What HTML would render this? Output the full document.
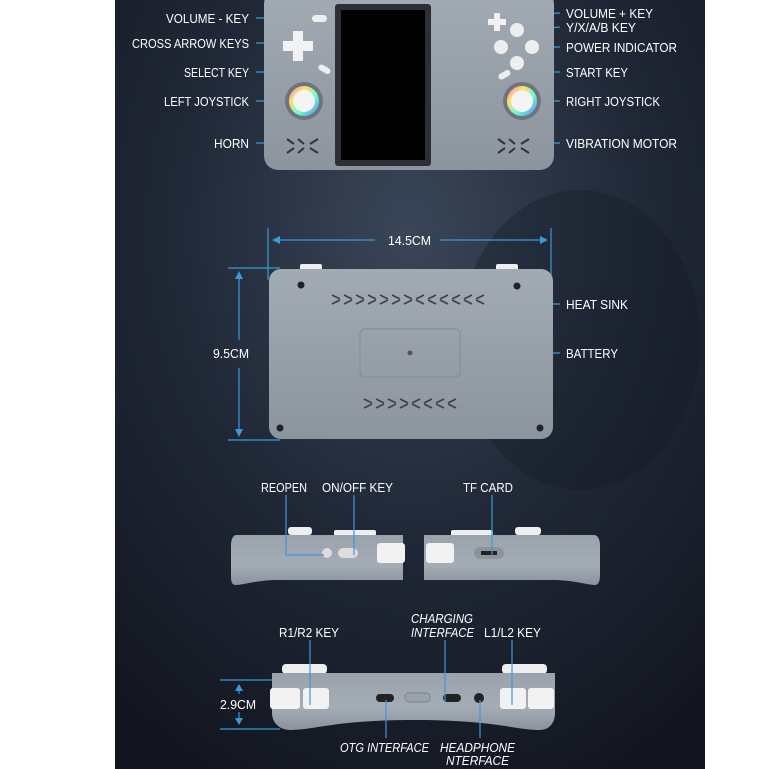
<!DOCTYPE html>
<html><head><meta charset="utf-8"><style>
html,body{margin:0;padding:0;background:#fff;width:769px;height:769px;overflow:hidden}
svg{display:block}
text{font-family:"Liberation Sans",sans-serif;fill:#fff;font-size:13px}
</style></head><body>
<svg width="769" height="769" viewBox="0 0 769 769" xmlns="http://www.w3.org/2000/svg">
<defs>
<radialGradient id="bg" cx="0.5" cy="0.3" r="0.8">
<stop offset="0" stop-color="#3a4658"/><stop offset="0.5" stop-color="#202837"/><stop offset="1" stop-color="#12151f"/>
</radialGradient>
<linearGradient id="dev" x1="0" y1="0" x2="0" y2="1"><stop offset="0" stop-color="#a2aab3"/><stop offset="1" stop-color="#8c949d"/></linearGradient>
<linearGradient id="side" x1="0" y1="0" x2="0" y2="1"><stop offset="0" stop-color="#9aa2ab"/><stop offset="0.6" stop-color="#a4acb5"/><stop offset="1" stop-color="#8a929b"/></linearGradient>
<linearGradient id="ring" x1="0" y1="0" x2="1" y2="1"><stop offset="0" stop-color="#ff7fd0"/><stop offset="0.3" stop-color="#ffe066"/><stop offset="0.6" stop-color="#66ffcc"/><stop offset="1" stop-color="#6a7bff"/></linearGradient>
</defs>
<rect x="115" y="0" width="590" height="769" fill="url(#bg)"/>
<ellipse cx="580" cy="340" rx="120" ry="150" fill="#151a24" opacity="0.35"/>
<g stroke="#3a9ad9" stroke-width="1.2" fill="none">
<line x1="256" y1="18" x2="310" y2="18"/><line x1="256" y1="43" x2="295" y2="43"/><line x1="256" y1="72" x2="322" y2="72"/><line x1="256" y1="101" x2="300" y2="101"/><line x1="256" y1="143" x2="295" y2="143"/>
<line x1="500" y1="16" x2="560" y2="13"/><line x1="520" y1="30" x2="560" y2="27"/><line x1="512" y1="47" x2="560" y2="47"/><line x1="510" y1="72" x2="560" y2="72"/><line x1="523" y1="101" x2="560" y2="101"/><line x1="517" y1="143" x2="560" y2="143"/>
<line x1="268" y1="228" x2="268" y2="280"/><line x1="551" y1="228" x2="551" y2="280"/>
<line x1="274" y1="240" x2="375" y2="240"/><line x1="440" y1="240" x2="546" y2="240"/>
<line x1="228" y1="268" x2="280" y2="268"/><line x1="228" y1="440" x2="280" y2="440"/>
<line x1="239" y1="275" x2="239" y2="340"/><line x1="239" y1="368" x2="239" y2="433"/>
<line x1="445" y1="304" x2="560" y2="304"/><line x1="445" y1="353" x2="560" y2="353"/>
<line x1="220" y1="680" x2="280" y2="680"/><line x1="220" y1="729" x2="280" y2="729"/>
<line x1="239" y1="688" x2="239" y2="694"/><line x1="239" y1="712" x2="239" y2="720"/>
</g>
<g fill="#3a9ad9">
<polygon points="272,240 280,236 280,244"/><polygon points="548,240 540,236 540,244"/>
<polygon points="239,271 235,279 243,279"/><polygon points="239,437 235,429 243,429"/>
<polygon points="239,684 235,691 243,691"/><polygon points="239,725 235,718 243,718"/>
</g>
<rect x="264" y="-10" width="290" height="180" rx="14" fill="url(#dev)"/>
<rect x="335" y="4" width="96" height="162" rx="3" fill="#2c3036"/>
<rect x="341" y="10" width="84" height="150" fill="#000"/>
<rect x="312" y="15" width="15" height="7" rx="3.5" fill="#eee"/>
<path d="M293 33h10v10h10v10h-10v10h-10v-10h-10v-10h10z" fill="#f2f2f2" transform="translate(0,-2)"/>
<rect x="318" y="66" width="13" height="6" rx="3" fill="#eee" transform="rotate(30 324 69)"/>
<circle cx="304" cy="101" r="19" fill="#6d747c"/><circle cx="304" cy="101" r="15" fill="url(#ring)"/><circle cx="304" cy="101" r="11" fill="#f4f4f4"/>
<circle cx="522" cy="101" r="19" fill="#6d747c"/><circle cx="522" cy="101" r="15" fill="url(#ring)"/><circle cx="522" cy="101" r="11" fill="#f4f4f4"/>
<path d="M494 13h6v6h6v6h-6v6h-6v-6h-6v-6h6z" fill="#f2f2f2"/>
<circle cx="517" cy="30" r="7" fill="#eee"/><circle cx="501" cy="47" r="7" fill="#eee"/><circle cx="532" cy="47" r="7" fill="#eee"/><circle cx="517" cy="63" r="7" fill="#eee"/>
<rect x="498" y="72" width="13" height="6" rx="3" fill="#eee" transform="rotate(-30 504 75)"/>
<g stroke="#2f343a" stroke-width="2"><path d="M287 139l7 5M287 153l7-5M298 139l6 5M298 153l6-5M310 144l8-5M310 148l8 5"/>
<path d="M498 139l7 5M498 153l7-5M509 139l6 5M509 153l6-5M521 144l8-5M521 148l8 5"/></g>
<rect x="300" y="264" width="22" height="8" rx="2" fill="#eee"/><rect x="496" y="264" width="22" height="8" rx="2" fill="#eee"/>
<rect x="269" y="269" width="284" height="170" rx="12" fill="url(#dev)"/>
<rect x="360" y="329" width="100" height="48" rx="5" fill="none" stroke="#838b94"/>
<circle cx="410" cy="353" r="2.5" fill="#555"/>
<g fill="#222"><circle cx="301" cy="285" r="3.5"/><circle cx="517" cy="286" r="3.5"/><circle cx="280" cy="428" r="3.5"/><circle cx="540" cy="428" r="3.5"/></g>
<g stroke="#3b4047" stroke-width="1.6">
<path d="M332 295l8 4M332 304l8-4M344 295l8 4M344 304l8-4M356 295l8 4M356 304l8-4M368 295l8 4M368 304l8-4M380 295l8 4M380 304l8-4M392 295l8 4M392 304l8-4M404 295l8 4M404 304l8-4M416 299l8-4M416 300l8 4M428 299l8-4M428 300l8 4M440 299l8-4M440 300l8 4M452 299l8-4M452 300l8 4M464 299l8-4M464 300l8 4M476 299l8-4M476 300l8 4"/>
<path d="M364 399l8 4M364 408l8-4M376 399l8 4M376 408l8-4M388 399l8 4M388 408l8-4M400 399l8 4M400 408l8-4M412 403l8-4M412 404l8 4M424 403l8-4M424 404l8 4M436 403l8-4M436 404l8 4M448 403l8-4M448 404l8 4"/></g>
<g fill="#eee"><rect x="288" y="527" width="24" height="8" rx="3"/><rect x="334" y="530" width="42" height="6" rx="2"/><rect x="451" y="530" width="42" height="6" rx="2"/><rect x="515" y="527" width="26" height="8" rx="3"/></g>
<path d="M236 535h167v45h-125c-20 0-35 5-42 5-5 0-5-5-5-10v-30c0-5 2-10 5-10z" fill="url(#side)"/>
<path d="M424 535h170c4 0 6 5 6 10v30c0 5-1 10-5 10-7 0-22-5-42-5h-129z" fill="url(#side)"/>
<rect x="377" y="543" width="28" height="20" rx="3" fill="#f2f2f2"/><rect x="426" y="543" width="28" height="20" rx="3" fill="#f2f2f2"/>
<circle cx="327" cy="553" r="5" fill="#ddd"/><rect x="338" y="548" width="20" height="10" rx="5" fill="#ddd"/>
<rect x="474" y="547" width="30" height="12" rx="6" fill="#8b939b"/><rect x="481" y="551" width="16" height="4" fill="#222"/>
<g fill="#eee"><rect x="282" y="664" width="45" height="10" rx="4"/><rect x="502" y="664" width="45" height="10" rx="4"/></g>
<path d="M272 673h283v40c0 10-6 17-15 17-25 0-45-10-125-10s-100 10-125 10c-10 0-18-7-18-17z" fill="url(#side)"/>
<g fill="#f2f2f2"><rect x="270" y="688" width="30" height="21" rx="3"/><rect x="303" y="688" width="26" height="21" rx="3"/><rect x="500" y="688" width="26" height="21" rx="3"/><rect x="528" y="688" width="26" height="21" rx="3"/></g>
<rect x="376" y="694" width="18" height="8" rx="4" fill="#222"/><rect x="405" y="693" width="25" height="9" rx="4" fill="#9aa2ab" stroke="#7a828a"/>
<rect x="443" y="694" width="18" height="8" rx="4" fill="#222"/><circle cx="479" cy="698" r="5" fill="#222"/>
<g stroke="#3a9ad9" stroke-width="1.2" fill="none">
<path d="M286 495v60h38"/><path d="M354 495v60"/><line x1="492" y1="495" x2="492" y2="555"/>
<line x1="310" y1="640" x2="310" y2="705"/><line x1="445" y1="640" x2="445" y2="702"/><line x1="512" y1="640" x2="512" y2="705"/>
<line x1="386" y1="700" x2="386" y2="738"/><line x1="480" y1="700" x2="480" y2="738"/>
</g>
<g lengthAdjust="spacingAndGlyphs">
<text x="166" y="23" textLength="83" lengthAdjust="spacingAndGlyphs">VOLUME - KEY</text>
<text x="132" y="48" textLength="117" lengthAdjust="spacingAndGlyphs">CROSS ARROW KEYS</text>
<text x="184" y="77" textLength="65" lengthAdjust="spacingAndGlyphs">SELECT KEY</text>
<text x="164" y="106" textLength="85" lengthAdjust="spacingAndGlyphs">LEFT JOYSTICK</text>
<text x="214" y="148" textLength="35" lengthAdjust="spacingAndGlyphs">HORN</text>
<text x="566" y="18" textLength="87" lengthAdjust="spacingAndGlyphs">VOLUME + KEY</text>
<text x="566" y="32" textLength="70" lengthAdjust="spacingAndGlyphs">Y/X/A/B KEY</text>
<text x="566" y="52" textLength="111" lengthAdjust="spacingAndGlyphs">POWER INDICATOR</text>
<text x="566" y="77" textLength="62" lengthAdjust="spacingAndGlyphs">START KEY</text>
<text x="566" y="106" textLength="94" lengthAdjust="spacingAndGlyphs">RIGHT JOYSTICK</text>
<text x="566" y="148" textLength="111" lengthAdjust="spacingAndGlyphs">VIBRATION MOTOR</text>
<text x="388" y="245" textLength="43" lengthAdjust="spacingAndGlyphs">14.5CM</text>
<text x="213" y="358" textLength="36" lengthAdjust="spacingAndGlyphs">9.5CM</text>
<text x="566" y="309" textLength="62" lengthAdjust="spacingAndGlyphs">HEAT SINK</text>
<text x="566" y="358" textLength="52" lengthAdjust="spacingAndGlyphs">BATTERY</text>
<text x="261" y="492" textLength="46" lengthAdjust="spacingAndGlyphs">REOPEN</text>
<text x="322" y="492" textLength="71" lengthAdjust="spacingAndGlyphs">ON/OFF KEY</text>
<text x="463" y="492" textLength="50" lengthAdjust="spacingAndGlyphs">TF CARD</text>
<text x="279" y="637" textLength="60" lengthAdjust="spacingAndGlyphs">R1/R2 KEY</text>
<text x="484" y="637" textLength="57" lengthAdjust="spacingAndGlyphs">L1/L2 KEY</text>
<text x="411" y="623" textLength="62" lengthAdjust="spacingAndGlyphs" style="font-style:italic">CHARGING</text>
<text x="411" y="637" textLength="63" lengthAdjust="spacingAndGlyphs" style="font-style:italic">INTERFACE</text>
<text x="340" y="752" textLength="89" lengthAdjust="spacingAndGlyphs" style="font-style:italic">OTG INTERFACE</text>
<text x="440" y="752" textLength="75" lengthAdjust="spacingAndGlyphs" style="font-style:italic">HEADPHONE</text>
<text x="446" y="765" textLength="63" lengthAdjust="spacingAndGlyphs" style="font-style:italic">NTERFACE</text>
<text x="220" y="709" textLength="36" lengthAdjust="spacingAndGlyphs">2.9CM</text>
</g>
</svg>
</body></html>
